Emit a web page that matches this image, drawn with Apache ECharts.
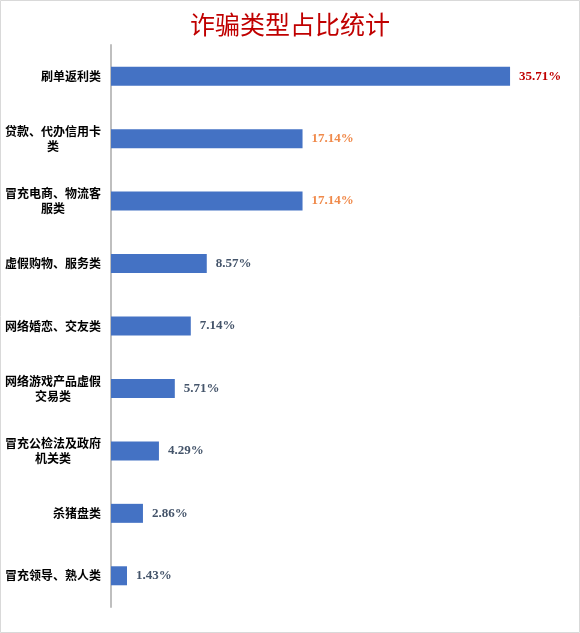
<!DOCTYPE html>
<html>
<head>
<meta charset="utf-8">
<script src="https://cdn.jsdelivr.net/npm/echarts@6/dist/echarts.min.js"></script>
<style>
html,body{margin:0;padding:0;background:#fff;}
#c{width:580px;height:633px;}
</style>
</head>
<body>
<div id="c"></div>
<script>
const categories = [
  '刷单返利类',
  '贷款、代办信用卡\n类',
  '冒充电商、物流客\n服类',
  '虚假购物、服务类',
  '网络婚恋、交友类',
  '网络游戏产品虚假\n交易类',
  '冒充公检法及政府\n机关类',
  '杀猪盘类',
  '冒充领导、熟人类'
];
const values = [35.71, 17.14, 17.14, 8.57, 7.14, 5.71, 4.29, 2.86, 1.43];
const titleText = '诈骗类型占比统计';

const labelColors = ['#C00000', '#F08A4B', '#F08A4B', '#44546A', '#44546A', '#44546A', '#44546A', '#44546A', '#44546A'];

const chart = echarts.init(document.getElementById('c'));
chart.setOption({
  backgroundColor: '#fff',
  animation: false,
  title: {
    text: titleText,
    left: 'center',
    top: 7,
    textStyle: {
      fontFamily: 'Noto Sans CJK SC',
      fontSize: 25,
      fontWeight: 'normal',
      color: '#C00000'
    }
  },
  graphic: [{
    type: 'rect',
    shape: {x: 0.5, y: 0.5, width: 579, height: 632},
    style: {fill: 'none', stroke: '#D9D9D9', lineWidth: 1},
    silent: true
  }],
  grid: {left: 111, right: 22, top: 45, bottom: 26, containLabel: false},
  xAxis: {
    type: 'value',
    min: 0,
    max: 40,
    show: false,
    splitLine: {show: false}
  },
  yAxis: {
    type: 'category',
    data: categories,
    inverse: true,
    axisLine: {show: true, lineStyle: {color: '#BFBFBF', width: 2}},
    axisTick: {show: false},
    axisLabel: {
      margin: 10,
      color: '#000',
      fontFamily: 'Noto Sans CJK SC',
      fontWeight: 'bold',
      fontSize: 12,
      lineHeight: 15,
      formatter: function (v) {
        if (v.indexOf('\n') >= 0) {
          return v.split('\n').map(function (s) { return '{c|' + s + '}'; }).join('\n');
        }
        return v;
      },
      rich: {
        c: {
          width: 96,
          align: 'center',
          color: '#000',
          fontFamily: 'Noto Sans CJK SC',
          fontWeight: 'bold',
          fontSize: 12,
          lineHeight: 15
        }
      }
    }
  },
  series: [{
    type: 'bar',
    data: values.map(function (v, i) {
      return {
        value: v,
        label: {color: labelColors[i]}
      };
    }),
    barWidth: 19,
    itemStyle: {color: '#4472C4'},
    label: {
      show: true,
      position: 'right',
      distance: 9,
      fontFamily: 'Liberation Serif',
      fontWeight: 'bold',
      fontSize: 13,
      formatter: function (p) { return p.value.toFixed(2) + '%'; }
    }
  }]
});
</script>
</body>
</html>
